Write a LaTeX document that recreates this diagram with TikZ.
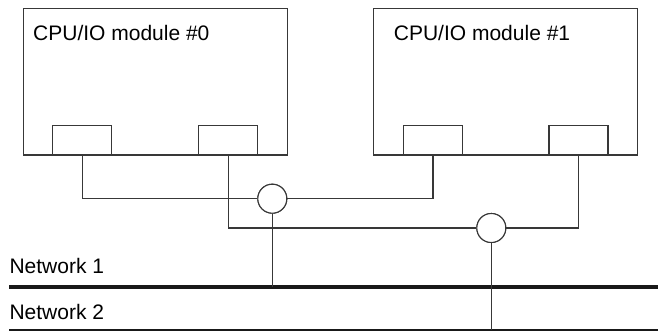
\documentclass[tikz,border=0pt]{standalone}
\usepackage{fontspec}
\setmainfont{Liberation Sans}
\begin{document}
\begin{tikzpicture}[x=1pt,y=-1pt,
  wire/.style={draw=black!78,line width=1.1pt},
  module/.style={draw=black!78,line width=1.1pt,rectangle,inner sep=0pt,minimum width=264pt,minimum height=146.7pt},
  port/.style={draw=black!78,line width=1.1pt,rectangle,inner sep=0pt,minimum width=59pt,minimum height=29.7pt},
  hub/.style={draw=black!78,line width=1.1pt,circle,fill=white,inner sep=0pt,minimum size=29pt},
  lbl/.style={font=\fontsize{21}{25}\selectfont,inner sep=0pt,anchor=base west}]
\useasboundingbox (0,0) rectangle (658,331);
% modules
\node[module] (m0) at (155.3,81.65) {};
\node[module] (m1) at (505.5,81.65) {};
\node[lbl] (t0) at (33,40.5) {CPU/IO module \#0};
\node[lbl] (t1) at (393.7,40.5) {CPU/IO module \#1};
% ports
\node[port] (pA) at (82.3,140.15) {};
\node[port] (pB) at (228.3,140.15) {};
\node[port] (pC) at (433,140.15) {};
\node[port] (pD) at (578.5,140.15) {};
% hubs
\node[hub] (c1) at (272.3,198.7) {};
\node[hub] (c2) at (491.3,228) {};
% networks
\coordinate (n1a) at (9,287);
\coordinate (n1b) at (658,287);
\coordinate (n2a) at (9,330);
\coordinate (n2b) at (658,330);
\draw[line width=4.6pt,black!90] (n1a) -- (n1b);
\draw[line width=1.5pt,black!90] (n2a) -- (n2b);
\node[lbl] (nl1) at (9.3,273.3) {Network 1};
\node[lbl] (nl2) at (9.3,319) {Network 2};
% connectors
\draw[wire] (pA.south) |- (c1.west);
\draw[wire] (c1.east) -| (pC.south);
\draw[wire] (pB.south) |- (c2.west);
\draw[wire] (c2.east) -| (pD.south);
\draw[wire] (c1.south) -- (c1.south |- n1a);
\draw[wire] (c2.south) -- (c2.south |- n2a);
\node[hub] at (c1) {};
\node[hub] at (c2) {};
\end{tikzpicture}
\end{document}
